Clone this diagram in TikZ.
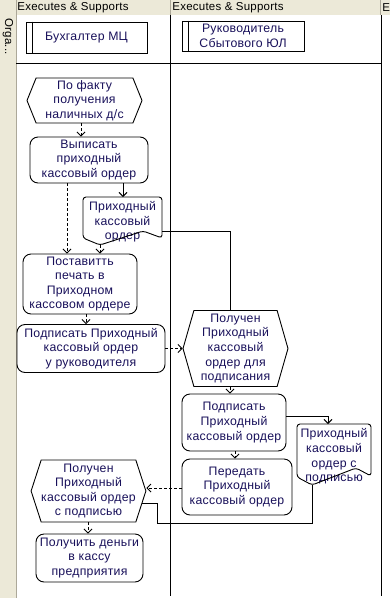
\documentclass[tikz,border=0pt]{standalone}
\usepackage{fontspec}
\setmainfont[LetterSpace=2]{Liberation Sans}
\usetikzlibrary{arrows.meta, shapes.symbols}
\definecolor{panelbeige}{RGB}{236,233,216}
\definecolor{panelgray}{RGB}{172,168,153}
\definecolor{nodetext}{RGB}{24,16,90}

\begin{document}
\begin{tikzpicture}[
      x=1pt, y=-1pt, line width=0.9pt,
      every node/.style={font=\fontsize{12.3}{14.6}\selectfont, text=nodetext,
                         align=center, inner sep=0pt},
      lane/.style={line width=1pt, black},
      rolebox/.style={draw, rectangle, minimum width=121pt, minimum height=31pt},
      actbox/.style={draw, rounded corners=8pt},
      eventhex/.style={draw, signal, signal to=west and east},
      flow/.style={-{Straight Barb[length=4pt, width=8pt]}, dash pattern=on 3pt off 2pt},
      link/.style={-{Straight Barb[length=4pt, width=8pt]}},
    ]

    \useasboundingbox (0,0) rectangle (390,598);

    % Рамка дорожек
    \fill[panelbeige] (0,0) rectangle (390,15);
    \fill[panelbeige] (0,0) rectangle (16,598);
    \draw[panelgray, line width=0.8pt] (16,0) -- (16,598);
    \draw[panelgray, line width=0.8pt] (170,0) -- (170,15);
    \draw[panelgray, line width=0.8pt] (380,0) -- (380,15);
    \draw[lane] (170,15) -- (170,596);
    \draw[lane] (381,15) -- (381,596);
    \draw[lane] (16,63) -- (381,63);

    \node[anchor=west, text=black, font=\fontsize{11.5}{13}\selectfont] (hdr1) at (17,8)
      {Executes \& Supports};
    \node[anchor=west, text=black, font=\fontsize{11.5}{13}\selectfont] (hdr2) at (172,8)
      {Executes \& Supports};
    \node[anchor=west, text=black, font=\fontsize{11.5}{13}\selectfont] (hdr3) at (382,8) {E};
    \node[anchor=west, text=black, rotate=-90, font=\fontsize{11.5}{13}\selectfont]
      (lanelbl) at (8,18) {Orga...};

    % Роли
    \node[rolebox] (role1) at (86.5,37.5) {Бухгалтер МЦ};
    \node[rolebox, minimum width=122pt, minimum height=30pt] (role2) at (243,36)
      {Руководитель\\Сбытового ЮЛ};
    \draw ([xshift=7pt]role1.north west) -- ([xshift=7pt]role1.south west);
    \draw ([xshift=7pt]role2.north west) -- ([xshift=7pt]role2.south west);

    % Бухгалтер МЦ
    \node[eventhex, signal pointer angle=136, minimum width=115pt, minimum height=45pt]
      (start) at (84.5,100.5) {По факту\\получения\\наличных д/с};
    \node[actbox, minimum width=118pt, minimum height=46pt] (vyp) at (89,160)
      {Выписать\\приходный\\кассовый ордер};
    \node (doc1) at (122.5,222) {Приходный\\кассовый\\ордер};
    \draw[rounded corners=3pt] (83,197) -- (162,197) -- (162,238) -- (143,231)
      -- (100,245) -- (83,238) -- cycle;
    \coordinate (d1t) at (123,197);
    \coordinate (d1r) at (162,231);
    \coordinate (d1b) at (100,245);
    \node[actbox, minimum width=114pt, minimum height=60pt] (post) at (80,284)
      {Поставитть\\печать в\\Приходном\\кассовом ордере};
    \node[actbox, minimum width=148pt, minimum height=48pt] (podp) at (91,348.5)
      {Подписать Приходный\\кассовый ордер\\у руководителя};
    \node[eventhex, signal pointer angle=144, minimum width=111pt, minimum height=62pt]
      (hex3) at (88.5,491) {Получен\\Приходный\\кассовый ордер\\с подписью};
    \node[actbox, minimum width=107pt, minimum height=48pt] (pol) at (89.5,558)
      {Получить деньги\\в кассу\\предприятия};

    % Руководитель Сбытового ЮЛ
    \node[eventhex, signal pointer angle=148, minimum width=105pt, minimum height=76pt]
      (hex2) at (235.5,348.5) {Получен\\Приходный\\кассовый\\ордер для\\подписания};
    \node[actbox, minimum width=104pt, minimum height=57pt] (podp2) at (234,422.5)
      {Подписать\\Приходный\\кассовый ордер};
    \node[actbox, minimum width=110pt, minimum height=56pt] (per) at (237,487)
      {Передать\\Приходный\\кассовый ордер};
    \node (doc2) at (334,456.5) {Приходный\\кассовый\\ордер с\\подписью};
    \draw[rounded corners=3pt] (297,424) -- (371,424) -- (371,476) -- (356,468)
      -- (312,485) -- (297,477) -- cycle;
    \coordinate (d2t) at (328,424);
    \coordinate (d2b) at (312,485);

    % Связи
    \draw[flow] (81,0 |- start.south) -- (81,0 |- vyp.north);
    \draw[link] (vyp.south -| d1t) -- (d1t);
    \draw[flow] (67,0 |- vyp.south) -- (67,0 |- post.north);
    \draw[flow] (d1b) -- (d1b |- post.north);
    \draw (d1r) -| ([xshift=-5pt]hex2.north);
    \draw[flow] (86,0 |- post.south) -- (86,0 |- podp.north);
    \draw[flow] (podp.east) -- (hex2.west);
    \draw[flow] (230,0 |- hex2.south) -- (230,0 |- podp2.north);
    \draw[link] (podp2.east |- 0,416) -| (d2t);
    \draw[flow] (235,0 |- podp2.south) -- (235,0 |- per.north);
    \draw[flow] (per.west |- 0,488) -- (hex3.east |- 0,488);
    \draw (d2b) |- (157,523) |- (hex3.-13);
    \draw[flow] (88,0 |- hex3.south) -- (88,0 |- pol.north);

  \end{tikzpicture}
\end{document}
